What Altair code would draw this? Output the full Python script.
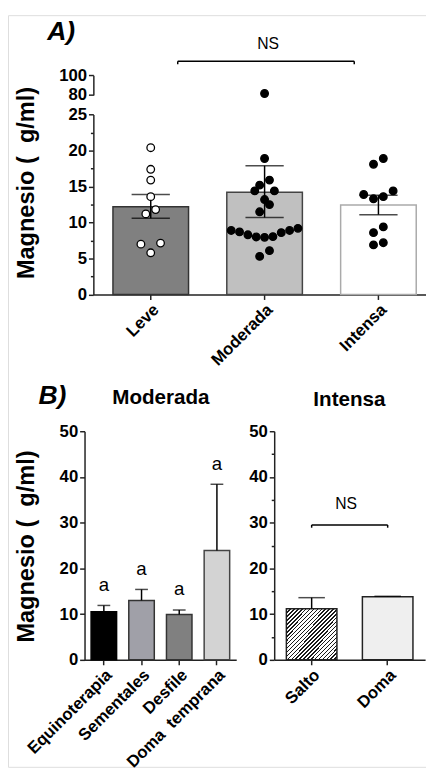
import altair as alt
import pandas as pd

# ---------------- data ----------------
groups_a = ["Leve", "Moderada", "Intensa"]
mean_a = [12.2, 14.2, 12.45]
low_a = [10.6, 10.7, 11.1]
high_a = [13.9, 17.9, 13.8]

leve_vals = [20.4, 17.4, 15.9, 13.6, 11.8, 11.2, 7.15, 7.0, 5.8]
moderada_vals = [81.5, 18.9, 15.9, 15.2, 14.4, 14.4, 13.2, 12.5, 11.5,
                 9.2, 8.9, 8.9, 8.7, 8.6, 8.3, 8.05, 8.0, 7.95, 6.1, 5.3]
intensa_vals = [18.9, 18.1, 14.4, 13.9, 13.6, 13.3, 9.4, 8.6, 7.2, 6.9]

groups_b1 = ["Equinoterapia", "Sementales", "Desfile", "Doma\u00a0\u00a0temprana"]
mean_b1 = [10.5, 13.0, 9.9, 23.9]
err_b1 = [11.9, 15.4, 10.9, 38.4]
letters_b1 = ["a", "a", "a", "a"]

groups_b2 = ["Salto", "Doma"]
mean_b2 = [11.2, 13.8]
err_b2 = [13.6, 13.9]

panel_labels = ["A)", "B)"]
sub_titles = ["Moderada", "Intensa"]
ns_label = "NS"
y_title = "Magnesio (\u00a0\u00a0g/ml)"

# ---------------- layout constants ----------------
W, H = 426, 766
FONT = "Liberation Sans"


def swarm_offsets(values, row_gap=1.45, spacing=10.0, max_span=68.0):
    n = len(values)
    order = sorted(range(n), key=lambda i: values[i])
    rows = []
    for i in order:
        if rows and values[i] - values[rows[-1][0]] <= row_gap:
            rows[-1].append(i)
        else:
            rows.append([i])
    offs = [0.0] * n
    for row in rows:
        m = len(row)
        s = spacing if m == 1 else min(spacing, max_span / (m - 1))
        for k, i in enumerate(row):
            if m % 2 == 1:
                slot = ((k + 1) // 2) * (-1 if k % 2 == 1 else 1)
            else:
                slot = (k // 2 + 0.5) * (-1 if k % 2 == 0 else 1)
            offs[i] = slot * s
    return offs


df_a = pd.DataFrame({"group": groups_a, "mean": mean_a, "low": low_a, "high": high_a})
pts = []
for g, vals in zip(groups_a, [leve_vals, moderada_vals, intensa_vals]):
    for v, o in zip(vals, swarm_offsets(vals)):
        pts.append({"group": g, "value": v, "xoff": o})
df_pts = pd.DataFrame(pts)

df_b1 = pd.DataFrame({"cat": groups_b1, "mean": mean_b1, "err": err_b1, "letter": letters_b1})
df_b2 = pd.DataFrame({"cat": groups_b2, "mean": mean_b2, "err": err_b2})

# ---------------- shared styles ----------------
common_axis = dict(
    labelFont=FONT, labelFontSize=17, labelFontWeight="bold", labelColor="black",
    domainColor="#222", domainWidth=1.5, tickColor="#222", tickWidth=1.5,
    grid=False, labelOverlap=False,
)


def x_axis(offset):
    return alt.Axis(orient="bottom", offset=offset, title=None, labelAngle=-45,
                    tickSize=5, labelPadding=2, **common_axis)


def y_axis(offset, values, title=None, tx=None, ty=None, labels=True, domain=True, tick=5):
    kw = dict(orient="left", offset=offset, values=values, tickSize=tick, labelPadding=2,
              labels=labels, domain=domain, **common_axis)
    if title is not None:
        kw.update(title=title, titleFont=FONT, titleFontSize=24, titleFontWeight="bold",
                  titleColor="black", titleX=tx, titleY=ty, titleAlign="center",
                  titleBaseline="middle")
    else:
        kw.update(title=None)
    return alt.Axis(**kw)


# ================= Panel A =================
xa_scale = alt.Scale(type="band", domain=groups_a, range=[87, 436], paddingInner=0.336, paddingOuter=0.172)
xa_axis = x_axis(284.7 - H)


def xa(field="group", **kw):
    return alt.X(f"{field}:N", scale=xa_scale, axis=xa_axis, sort=groups_a, **kw)


ya_bot = alt.Scale(domain=[0, 25], range=[284.7, 101.3], nice=False, zero=False)
ya_top = alt.Scale(domain=[80, 100], range=[81.3, 61.3], nice=False, zero=False)
ya_bot_axis = y_axis(-87, [0, 5, 10, 15, 20, 25], y_title, -67.5, 170.5)
ya_top_axis = y_axis(-87, [80, 100])
ya_min_axis = y_axis(-87, [2.5, 7.5, 12.5, 17.5, 22.5], labels=False, domain=False, tick=3)

xoff_enc = alt.XOffset("xoff:Q", scale=alt.Scale(domain=[-38.5, 38.5], range=[0, 77]))
pt_fill = alt.condition("datum.group === 'Leve'", alt.value("white"), alt.value("black"))

bars_a = alt.Chart(df_a).mark_bar(strokeWidth=1.5).encode(
    x=xa(bandPosition=0), x2=alt.X2("group", bandPosition=1),
    y=alt.Y("mean:Q", scale=ya_bot, axis=ya_bot_axis), y2=alt.datum(0),
    fill=alt.Fill("group:N", scale=alt.Scale(domain=groups_a, range=["#808080", "#c0c0c0", "#ffffff"]), legend=None),
    stroke=alt.Stroke("group:N", scale=alt.Scale(domain=groups_a, range=["#333333", "#444444", "#aaaaaa"]), legend=None),
)
err_a = alt.Chart(df_a).mark_rule(color="black", strokeWidth=1.5).encode(
    x=xa(), y=alt.Y("low:Q", scale=ya_bot, axis=ya_bot_axis), y2="high:Q")
caps_a = alt.Chart(df_a).transform_fold(["low", "high"], as_=["k", "v"]).mark_tick(
    size=39, thickness=1.5, color="black").encode(
    x=xa(), y=alt.Y("v:Q", scale=ya_bot, axis=ya_bot_axis))
pts_bot = alt.Chart(df_pts).transform_filter("datum.value <= 25").mark_circle(
    size=60, opacity=1, stroke="black", strokeWidth=1.3).encode(
    x=xa(), xOffset=xoff_enc, y=alt.Y("value:Q", scale=ya_bot, axis=ya_bot_axis), fill=pt_fill)
A_bottom = alt.layer(bars_a, err_a, caps_a, pts_bot)

pts_top = alt.Chart(df_pts).transform_filter("datum.value >= 80").mark_circle(
    size=60, opacity=1, stroke="black", strokeWidth=1.3).encode(
    x=xa(), xOffset=xoff_enc, y=alt.Y("value:Q", scale=ya_top, axis=ya_top_axis), fill=pt_fill)
df_br_a = pd.DataFrame({"group": [groups_a[0]], "group2": [groups_a[2]],
                        "mid": [groups_a[1]], "label": [ns_label], "panel": [panel_labels[0]]})
br_a = alt.Chart(df_br_a).mark_rule(color="black", strokeWidth=1.5).encode(
    x=xa(bandPosition=0.857), x2=alt.X2("group2", bandPosition=0.18), y=alt.datum(114.3))
br_a_l = alt.Chart(df_br_a).mark_rule(color="black", strokeWidth=1.5).encode(
    x=xa(bandPosition=0.857), y=alt.datum(114.3), y2=alt.datum(111.3))
br_a_r = alt.Chart(df_br_a).mark_rule(color="black", strokeWidth=1.5).encode(
    x=xa("group2", bandPosition=0.18), y=alt.datum(114.3), y2=alt.datum(111.3))
ns_a = alt.Chart(df_br_a).mark_text(font=FONT, fontSize=16, dx=3.5, baseline="middle", color="black").encode(
    x=xa("mid"), y=alt.datum(132.3), text="label:N")
lab_a = alt.Chart(df_br_a).mark_text(font=FONT, fontSize=27, fontWeight="bold", fontStyle="italic",
                                     align="left", baseline="alphabetic", dx=-67, color="black").encode(
    x=xa(bandPosition=0), y=alt.datum(136.3), text="panel:N")
A_top = alt.layer(pts_top, br_a, br_a_l, br_a_r, ns_a, lab_a)

A_minor = alt.Chart(df_a).mark_point(opacity=0).encode(
    y=alt.Y("mean:Q", scale=ya_bot, axis=ya_min_axis))

A = alt.layer(A_bottom, A_top, A_minor).resolve_scale(y="independent")

# ================= Panel B1 (Moderada) =================
xb1_scale = alt.Scale(type="band", domain=groups_b1, range=[78, 232.6], paddingInner=0.323, paddingOuter=0.174)
xb_axis = x_axis(657 - H)


def xb1(**kw):
    return alt.X("cat:N", scale=xb1_scale, axis=xb_axis, sort=groups_b1, **kw)


yb1 = alt.Scale(domain=[0, 50], range=[657, 424], nice=False, zero=False)
yb1_axis = y_axis(-78, [0, 10, 20, 30, 40, 50], y_title, -59, 541)

bars_b1 = alt.Chart(df_b1).mark_bar(strokeWidth=1.5).encode(
    x=xb1(bandPosition=0), x2=alt.X2("cat", bandPosition=1),
    y=alt.Y("mean:Q", scale=yb1, axis=yb1_axis), y2=alt.datum(0),
    fill=alt.Fill("cat:N", scale=alt.Scale(domain=groups_b1, range=["#000000", "#a0a0a8", "#808080", "#d3d3d3"]), legend=None),
    stroke=alt.Stroke("cat:N", scale=alt.Scale(domain=groups_b1, range=["#000000", "#333333", "#333333", "#444444"]), legend=None),
)
err_b1_l = alt.Chart(df_b1).mark_rule(color="black", strokeWidth=1.5).encode(
    x=xb1(), y=alt.Y("mean:Q", scale=yb1, axis=yb1_axis), y2="err:Q")
caps_b1 = alt.Chart(df_b1).mark_tick(size=13, thickness=1.5, color="black").encode(
    x=xb1(), y=alt.Y("err:Q", scale=yb1, axis=yb1_axis))
let_b1 = alt.Chart(df_b1).mark_text(font=FONT, fontSize=19, dy=-21, baseline="middle", color="black").encode(
    x=xb1(), y=alt.Y("err:Q", scale=yb1, axis=yb1_axis), text="letter:N")
df_t1 = pd.DataFrame({"cat": [groups_b1[1]], "label": [sub_titles[0]]})
tit_b1 = alt.Chart(df_t1).mark_text(font=FONT, fontSize=21, fontWeight="bold", dx=6.7,
                                    baseline="middle", color="black").encode(
    x=xb1(bandPosition=1), y=alt.datum(57.3), text="label:N")
df_pb = pd.DataFrame({"cat": [groups_b1[0]], "label": [panel_labels[1]]})
lab_b = alt.Chart(df_pb).mark_text(font=FONT, fontSize=27, fontWeight="bold", fontStyle="italic",
                                   align="left", baseline="alphabetic", dx=-53.7, color="black").encode(
    x=xb1(bandPosition=0), y=alt.datum(56.0), text="label:N")
B1 = alt.layer(bars_b1, err_b1_l, caps_b1, let_b1, tit_b1, lab_b)

# ================= Panel B2 (Intensa) =================
xb2_scale = alt.Scale(type="band", domain=groups_b2, range=[271.3, 425.1], paddingInner=0.335, paddingOuter=0.16)


def xb2(field="cat", **kw):
    return alt.X(f"{field}:N", scale=xb2_scale, axis=xb_axis, sort=groups_b2, **kw)


yb2 = alt.Scale(domain=[0, 50], range=[657, 424], nice=False, zero=False)
yb2_axis = y_axis(-271.3, [0, 10, 20, 30, 40, 50])
yb2_min_axis = y_axis(-271.3, [5, 15, 25, 35, 45], labels=False, domain=False, tick=3)


def hatch(n=26, frac=0.38, ink="#1a1a1a", paper="#ffffff"):
    stops = []
    for k in range(n):
        a, b, c = k / n, (k + frac) / n, (k + 1) / n
        stops += [alt.GradientStop(color=ink, offset=a), alt.GradientStop(color=ink, offset=b),
                  alt.GradientStop(color=paper, offset=b), alt.GradientStop(color=paper, offset=c)]
    return alt.LinearGradient(gradient="linear", stops=stops, x1=0, y1=0, x2=1, y2=1)


bars_b2 = alt.Chart(df_b2).mark_bar(strokeWidth=1.5, stroke="#222222").encode(
    x=xb2(bandPosition=0), x2=alt.X2("cat", bandPosition=1),
    y=alt.Y("mean:Q", scale=yb2, axis=yb2_axis), y2=alt.datum(0),
    fill=alt.condition("datum.cat === 'Salto'", alt.value(hatch()), alt.value("#efefef")),
)
err_b2_l = alt.Chart(df_b2).mark_rule(color="black", strokeWidth=1.5).encode(
    x=xb2(), y=alt.Y("mean:Q", scale=yb2, axis=yb2_axis), y2="err:Q")
caps_b2 = alt.Chart(df_b2).mark_tick(size=27, thickness=1.5, color="black").encode(
    x=xb2(), y=alt.Y("err:Q", scale=yb2, axis=yb2_axis))
df_br_b = pd.DataFrame({"cat": [groups_b2[0]], "cat2": [groups_b2[1]],
                        "label": [ns_label], "title": [sub_titles[1]]})
br_b = alt.Chart(df_br_b).mark_rule(color="black", strokeWidth=1.5).encode(
    x=xb2(), x2=alt.X2("cat2", bandPosition=0.5), y=alt.datum(29.5))
br_b_ends = alt.Chart(df_b2).mark_rule(color="black", strokeWidth=1.5).encode(
    x=xb2(), y=alt.datum(29.5), y2=alt.datum(28.9))
ns_b = alt.Chart(df_br_b).mark_text(font=FONT, fontSize=16, dx=9.4, baseline="middle", color="black").encode(
    x=xb2(bandPosition=1), y=alt.datum(34.0), text="label:N")
tit_b2 = alt.Chart(df_br_b).mark_text(font=FONT, fontSize=21, fontWeight="bold", dx=12.7,
                                      baseline="middle", color="black").encode(
    x=xb2(bandPosition=1), y=alt.datum(56.7), text="title:N")
B2_main = alt.layer(bars_b2, err_b2_l, caps_b2, br_b, br_b_ends, ns_b, tit_b2)
B2_minor = alt.Chart(df_b2).mark_point(opacity=0).encode(
    y=alt.Y("mean:Q", scale=yb2, axis=yb2_min_axis))
B2 = alt.layer(B2_main, B2_minor).resolve_scale(y="independent")

chart = alt.layer(A, B1, B2).resolve_scale(
    x="independent", y="independent", fill="independent", stroke="independent"
).properties(
    width=W, height=H, autosize=alt.AutoSizeParams(type="none"), padding=0
).configure_view(stroke=None).configure(font=FONT)

chart.save("out.html", embed_options={"renderer": "svg", "actions": False})
